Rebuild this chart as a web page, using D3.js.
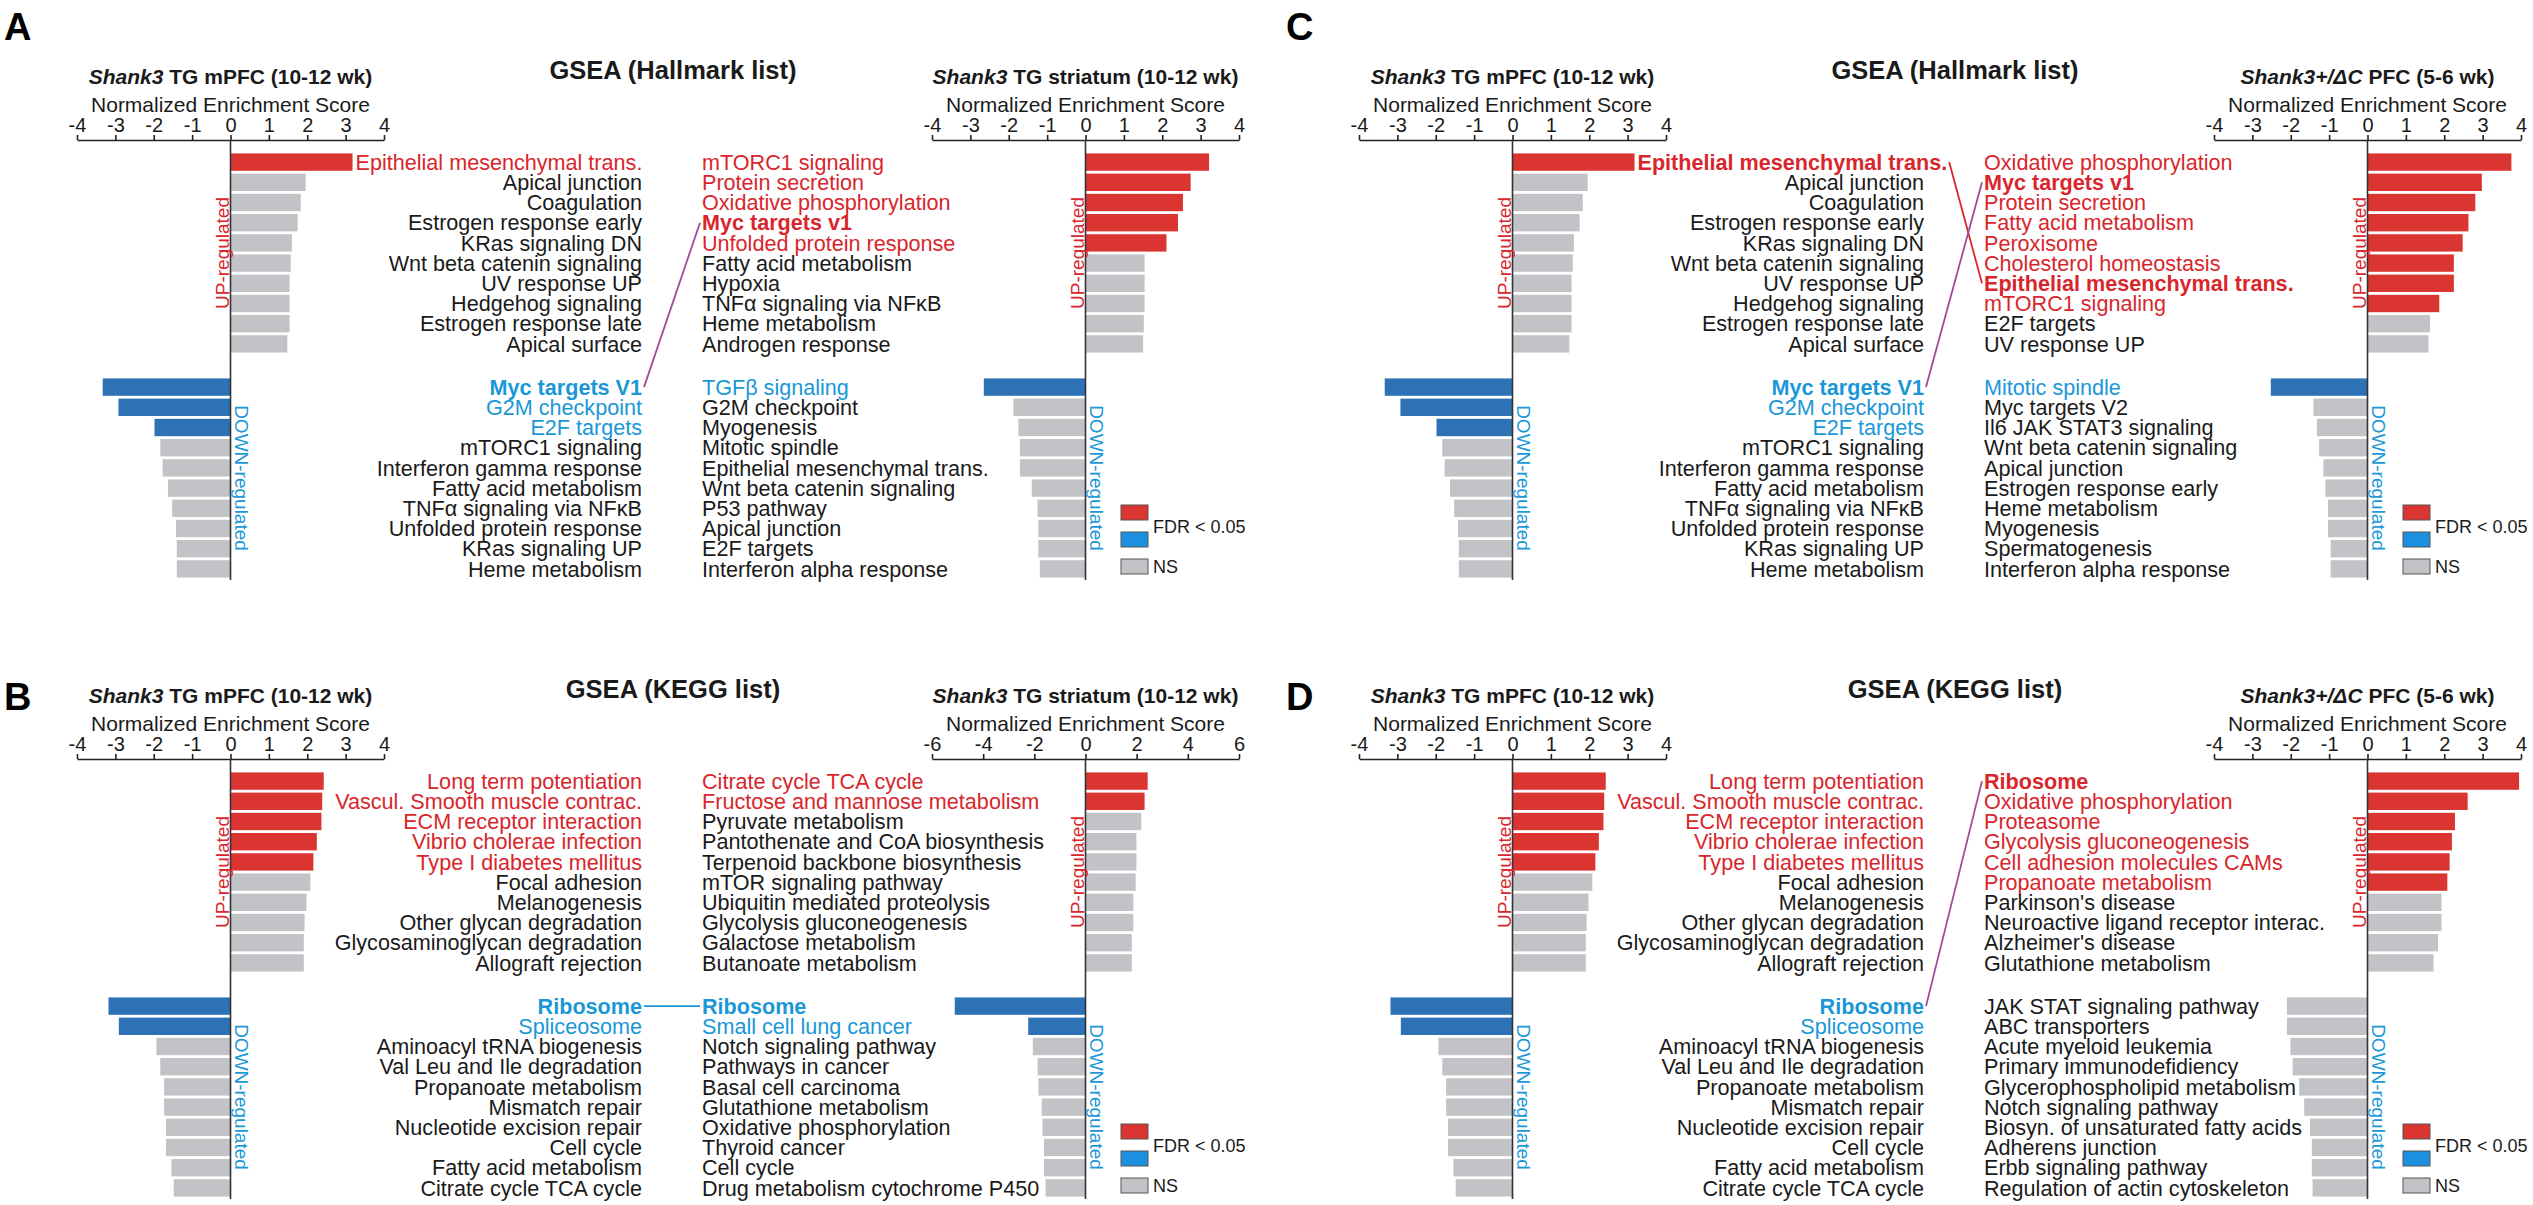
<!DOCTYPE html>
<html><head><meta charset="utf-8">
<script src="https://cdn.jsdelivr.net/npm/d3@7"></script>
<style>
body{margin:0;background:#fff}
svg{display:block;background:#fff}
text{font-family:"Liberation Sans",Arial,Helvetica,sans-serif}
</style>
</head><body>
<svg id="fig" width="2533" height="1205"></svg>
<script>
// ---------------- DATA ----------------
// Hallmark list — Shank3 TG mPFC (10-12 wk)
const hmMpfcUpTerms = ["Epithelial mesenchymal trans.","Apical junction","Coagulation","Estrogen response early","KRas signaling DN","Wnt beta catenin signaling","UV response UP","Hedgehog signaling","Estrogen response late","Apical surface"];
const hmMpfcUpNES   = [3.18,1.96,1.83,1.75,1.60,1.57,1.54,1.54,1.54,1.48];
const hmMpfcUpSig   = [1,0,0,0,0,0,0,0,0,0];
const hmMpfcDownTerms = ["Myc targets V1","G2M checkpoint","E2F targets","mTORC1 signaling","Interferon gamma response","Fatty acid metabolism","TNFα signaling via NFκB","Unfolded protein response","KRas signaling UP","Heme metabolism"];
const hmMpfcDownNES   = [-3.33,-2.92,-1.98,-1.83,-1.77,-1.63,-1.52,-1.42,-1.40,-1.40];
const hmMpfcDownSig   = [1,1,1,0,0,0,0,0,0,0];

// Hallmark list — Shank3 TG striatum (10-12 wk)
const hmStrUpTerms = ["mTORC1 signaling","Protein secretion","Oxidative phosphorylation","Myc targets v1","Unfolded protein response","Fatty acid metabolism","Hypoxia","TNFα signaling via NFκB","Heme metabolism","Androgen response"];
const hmStrUpNES   = [3.22,2.74,2.54,2.41,2.11,1.54,1.54,1.54,1.52,1.50];
const hmStrUpSig   = [1,1,1,1,1,0,0,0,0,0];
const hmStrDownTerms = ["TGFβ signaling","G2M checkpoint","Myogenesis","Mitotic spindle","Epithelial mesenchymal trans.","Wnt beta catenin signaling","P53 pathway","Apical junction","E2F targets","Interferon alpha response"];
const hmStrDownNES   = [-2.65,-1.88,-1.75,-1.71,-1.71,-1.40,-1.25,-1.23,-1.23,-1.19];
const hmStrDownSig   = [1,0,0,0,0,0,0,0,0,0];

// Hallmark list — Shank3+/ΔC PFC (5-6 wk)
const hmDcUpTerms = ["Oxidative phosphorylation","Myc targets v1","Protein secretion","Fatty acid metabolism","Peroxisome","Cholesterol homeostasis","Epithelial mesenchymal trans.","mTORC1 signaling","E2F targets","UV response UP"];
const hmDcUpNES   = [3.75,2.98,2.81,2.63,2.48,2.25,2.25,1.87,1.63,1.59];
const hmDcUpSig   = [1,1,1,1,1,1,1,1,0,0];
const hmDcDownTerms = ["Mitotic spindle","Myc targets V2","Il6 JAK STAT3 signaling","Wnt beta catenin signaling","Apical junction","Estrogen response early","Heme metabolism","Myogenesis","Spermatogenesis","Interferon alpha response"];
const hmDcDownNES   = [-2.52,-1.41,-1.32,-1.26,-1.15,-1.10,-1.03,-1.03,-0.96,-0.96];
const hmDcDownSig   = [1,0,0,0,0,0,0,0,0,0];

// KEGG list — Shank3 TG mPFC (10-12 wk)
const kgMpfcUpTerms = ["Long term potentiation","Vascul. Smooth muscle contrac.","ECM receptor interaction","Vibrio cholerae infection","Type I diabetes mellitus","Focal adhesion","Melanogenesis","Other glycan degradation","Glycosaminoglycan degradation","Allograft rejection"];
const kgMpfcUpNES   = [2.43,2.39,2.37,2.25,2.16,2.08,1.98,1.93,1.91,1.91];
const kgMpfcUpSig   = [1,1,1,1,1,0,0,0,0,0];
const kgMpfcDownTerms = ["Ribosome","Spliceosome","Aminoacyl tRNA biogenesis","Val Leu and Ile degradation","Propanoate metabolism","Mismatch repair","Nucleotide excision repair","Cell cycle","Fatty acid metabolism","Citrate cycle TCA cycle"];
const kgMpfcDownNES   = [-3.18,-2.91,-1.93,-1.83,-1.73,-1.73,-1.68,-1.68,-1.54,-1.48];
const kgMpfcDownSig   = [1,1,0,0,0,0,0,0,0,0];

// KEGG list — Shank3 TG striatum (10-12 wk)
const kgStrUpTerms = ["Citrate cycle TCA cycle","Fructose and mannose metabolism","Pyruvate metabolism","Pantothenate and CoA biosynthesis","Terpenoid backbone biosynthesis","mTOR signaling pathway","Ubiquitin mediated proteolysis","Glycolysis gluconeogenesis","Galactose metabolism","Butanoate metabolism"];
const kgStrUpNES   = [2.43,2.31,2.18,1.99,1.99,1.96,1.87,1.87,1.81,1.81];
const kgStrUpSig   = [1,1,0,0,0,0,0,0,0,0];
const kgStrDownTerms = ["Ribosome","Small cell lung cancer","Notch signaling pathway","Pathways in cancer","Basal cell carcinoma","Glutathione metabolism","Oxidative phosphorylation","Thyroid cancer","Cell cycle","Drug metabolism cytochrome P450"];
const kgStrDownNES   = [-5.11,-2.24,-2.06,-1.87,-1.84,-1.71,-1.68,-1.62,-1.62,-1.56];
const kgStrDownSig   = [1,1,0,0,0,0,0,0,0,0];

// KEGG list — Shank3+/ΔC PFC (5-6 wk)
const kgDcUpTerms = ["Ribosome","Oxidative phosphorylation","Proteasome","Glycolysis gluconeogenesis","Cell adhesion molecules CAMs","Propanoate metabolism","Parkinson's disease","Neuroactive ligand receptor interac.","Alzheimer's disease","Glutathione metabolism"];
const kgDcUpNES   = [3.95,2.61,2.28,2.20,2.14,2.08,1.93,1.93,1.84,1.72];
const kgDcUpSig   = [1,1,1,1,1,1,0,0,0,0];
const kgDcDownTerms = ["JAK STAT signaling pathway","ABC transporters","Acute myeloid leukemia","Primary immunodefidiency","Glycerophospholipid metabolism","Notch signaling pathway","Biosyn. of unsaturated fatty acids","Adherens junction","Erbb signaling pathway","Regulation of actin cytoskeleton"];
const kgDcDownNES   = [-2.10,-2.10,-2.01,-1.95,-1.78,-1.65,-1.50,-1.45,-1.45,-1.43];
const kgDcDownSig   = [0,0,0,0,0,0,0,0,0,0];

// axis ticks
const ticks4 = [-4,-3,-2,-1,0,1,2,3,4];
const ticks6 = [-6,-4,-2,0,2,4,6];

// titles
const panelLetters = ["A","B","C","D"];
const gseaTitles = ["GSEA (Hallmark list)","GSEA (KEGG list)"];
const axisTitle = "Normalized Enrichment Score";
const legendLabels = ["FDR < 0.05","NS"];

// highlighted (shared) gene sets, and connections between the two lists
const boldA = ["Myc targets V1","Myc targets v1"];
const boldB = ["Ribosome"];
const boldC = ["Epithelial mesenchymal trans.","Myc targets V1","Myc targets v1"];
const boldD = ["Ribosome"];
const linksA = [["down",0,"up",3,"purple"]];
const linksB = [["down",0,"down",0,"blue"]];
const linksC = [["up",0,"up",6,"red"],["down",0,"up",1,"purple"]];
const linksD = [["down",0,"up",0,"purple"]];

// ---------------- STYLE ----------------
const C = {
  redBar:"#db3531", blueBar:"#2c72b4", grayBar:"#c2c3c6",
  redText:"#d8262c", blueText:"#1a97d7", black:"#1a1a1a",
  legendBlue:"#1b8fe0", purple:"#a24a9a"
};
const FONT = '"Liberation Sans",Arial,Helvetica,sans-serif';

const svg = d3.select("#fig");

function chartCfg(title, italic, domain, ticks, upT, upV, upS, dnT, dnV, dnS, bold) {
  return {title, italic, domain, ticks,
    up: upT.map((t,i)=>({term:t, nes:upV[i], sig:upS[i]})),
    down: dnT.map((t,i)=>({term:t, nes:dnV[i], sig:dnS[i]})),
    bold};
}

const panels = [
  {letter:panelLetters[0], dx:0, dy:0, letterY:40, gsea:gseaTitles[0],
   left: chartCfg(" TG mPFC (10-12 wk)","Shank3",[-4,4],ticks4,hmMpfcUpTerms,hmMpfcUpNES,hmMpfcUpSig,hmMpfcDownTerms,hmMpfcDownNES,hmMpfcDownSig,boldA),
   right: chartCfg(" TG striatum (10-12 wk)","Shank3",[-4,4],ticks4,hmStrUpTerms,hmStrUpNES,hmStrUpSig,hmStrDownTerms,hmStrDownNES,hmStrDownSig,boldA),
   links: linksA},
  {letter:panelLetters[1], dx:0, dy:619, letterY:91, gsea:gseaTitles[1],
   left: chartCfg(" TG mPFC (10-12 wk)","Shank3",[-4,4],ticks4,kgMpfcUpTerms,kgMpfcUpNES,kgMpfcUpSig,kgMpfcDownTerms,kgMpfcDownNES,kgMpfcDownSig,boldB),
   right: chartCfg(" TG striatum (10-12 wk)","Shank3",[-6,6],ticks6,kgStrUpTerms,kgStrUpNES,kgStrUpSig,kgStrDownTerms,kgStrDownNES,kgStrDownSig,boldB),
   links: linksB},
  {letter:panelLetters[2], dx:1282, dy:0, letterY:40, gsea:gseaTitles[0],
   left: chartCfg(" TG mPFC (10-12 wk)","Shank3",[-4,4],ticks4,hmMpfcUpTerms,hmMpfcUpNES,hmMpfcUpSig,hmMpfcDownTerms,hmMpfcDownNES,hmMpfcDownSig,boldC),
   right: chartCfg(" PFC (5-6 wk)","Shank3+/ΔC",[-4,4],ticks4,hmDcUpTerms,hmDcUpNES,hmDcUpSig,hmDcDownTerms,hmDcDownNES,hmDcDownSig,boldC),
   links: linksC},
  {letter:panelLetters[3], dx:1282, dy:619, letterY:91, gsea:gseaTitles[1],
   left: chartCfg(" TG mPFC (10-12 wk)","Shank3",[-4,4],ticks4,kgMpfcUpTerms,kgMpfcUpNES,kgMpfcUpSig,kgMpfcDownTerms,kgMpfcDownNES,kgMpfcDownSig,boldD),
   right: chartCfg(" PFC (5-6 wk)","Shank3+/ΔC",[-4,4],ticks4,kgDcUpTerms,kgDcUpNES,kgDcUpSig,kgDcDownTerms,kgDcDownNES,kgDcDownSig,boldD),
   links: linksD}
];

// layout inside a panel
const L = {
  leftRange:[77,384], rightRange:[932,1239],
  axisY:140, titleY:84, nesY:112,
  upRange:[152,354], downRange:[377,579], zeroBottom:580,
  leftLabelX:642, rightLabelX:702,
  labelSize:21.6, titleSize:21, tickSize:20, sideSize:19
};
const rowsUp = d3.scaleBand().domain(d3.range(10)).range(L.upRange).paddingInner(0.14).paddingOuter(0.07);
const rowsDown = d3.scaleBand().domain(d3.range(10)).range(L.downRange).paddingInner(0.14).paddingOuter(0.07);
const rowY = (sec,i) => (sec==="up"?rowsUp:rowsDown)(i) + rowsUp.bandwidth()/2;

function drawChart(g, cfg, side) {
  const x = d3.scaleLinear().domain(cfg.domain).range(side==="left"?L.leftRange:L.rightRange);
  const x0 = x(0);
  const cg = g.append("g");
  const labelEnds = {up:[], down:[]};

  // title
  const t = cg.append("text").attr("x", x0).attr("y", L.titleY).attr("text-anchor","middle")
    .attr("font-size", L.titleSize).attr("font-weight","bold").attr("fill", C.black);
  t.append("tspan").attr("font-style","italic").text(cfg.italic);
  t.append("tspan").text(cfg.title);
  cg.append("text").attr("x", x0).attr("y", L.nesY).attr("text-anchor","middle")
    .attr("font-size", L.titleSize).attr("fill", C.black).text(axisTitle);

  // axis
  const ax = cg.append("g").attr("transform", `translate(0,${L.axisY})`)
    .call(d3.axisTop(x).tickValues(cfg.ticks).tickSize(5).tickSizeOuter(0).tickPadding(3).tickFormat(d=>String(d)));
  ax.attr("font-family", FONT).attr("font-size", L.tickSize);
  ax.select(".domain").attr("stroke", "#222").attr("stroke-width", 1.6);
  ax.selectAll(".tick line").attr("stroke", "#222").attr("stroke-width", 1.6);
  ax.selectAll(".tick text").attr("fill", C.black);

  // bars + labels
  const sections = [["up", cfg.up, rowsUp], ["down", cfg.down, rowsDown]];
  sections.forEach(([sec, data, rows]) => {
    cg.append("g").selectAll("rect").data(data).join("rect")
      .attr("x", d => x(Math.min(0, d.nes)))
      .attr("width", d => Math.abs(x(d.nes) - x0))
      .attr("y", (d,i) => rows(i))
      .attr("height", rows.bandwidth())
      .attr("fill", d => d.sig ? (sec==="up"?C.redBar:C.blueBar) : C.grayBar);

    const lx = side==="left" ? L.leftLabelX : L.rightLabelX;
    cg.append("g").selectAll("text").data(data).join("text")
      .attr("x", lx)
      .attr("y", (d,i) => rows(i) + rows.bandwidth()/2)
      .attr("dy", "0.36em")
      .attr("text-anchor", side==="left" ? "end" : "start")
      .attr("font-size", L.labelSize)
      .attr("font-weight", d => cfg.bold.includes(d.term) ? "bold" : "normal")
      .attr("fill", d => d.sig ? (sec==="up"?C.redText:C.blueText) : C.black)
      .text(d => d.term)
      .each(function(d, i) {
        // left list: a label that would run into its own bar starts just after the bar
        let end = lx;
        if (side === "left" && d.nes > 0) {
          const w = this.getComputedTextLength();
          const barEnd = x(d.nes);
          if (lx - w < barEnd + 3) {
            d3.select(this).attr("x", barEnd + 3).attr("text-anchor", "start");
            end = barEnd + 3 + w;
          }
        }
        labelEnds[sec][i] = end;
      });
  });

  // zero line
  cg.append("line").attr("x1", x0).attr("x2", x0).attr("y1", L.axisY).attr("y2", L.zeroBottom)
    .attr("stroke", "#333").attr("stroke-width", 1.6);

  // side labels
  const upMid = (L.upRange[0]+L.upRange[1])/2, dnMid = (L.downRange[0]+L.downRange[1])/2;
  cg.append("text").attr("transform", `translate(${x0-2},${upMid}) rotate(-90)`)
    .attr("text-anchor","middle").attr("font-size", L.sideSize).attr("fill", C.redText).text("UP-regulated");
  cg.append("text").attr("transform", `translate(${x0+4},${dnMid}) rotate(90)`)
    .attr("text-anchor","middle").attr("font-size", L.sideSize).attr("fill", C.blueText).text("DOWN-regulated");

  // legend
  if (side === "right") {
    const lg = cg.append("g");
    const sw = [[C.redBar,505],[C.legendBlue,532],[C.grayBar,559]];
    lg.selectAll("rect").data(sw).join("rect")
      .attr("x", 1121).attr("y", d=>d[1]).attr("width", 27).attr("height", 15)
      .attr("fill", d=>d[0]).attr("stroke", "#555").attr("stroke-width", 1);
    lg.append("text").attr("x", 1153).attr("y", 527).attr("dy","0.36em").attr("font-size", 18).attr("fill", C.black).text(legendLabels[0]);
    lg.append("text").attr("x", 1153).attr("y", 567).attr("dy","0.36em").attr("font-size", 18).attr("fill", C.black).text(legendLabels[1]);
  }
  return labelEnds;
}

panels.forEach(p => {
  const g = svg.append("g").attr("transform", `translate(${p.dx},${p.dy})`);
  g.append("text").attr("x", 4).attr("y", p.letterY).attr("font-size", 38).attr("font-weight","bold").attr("fill","#000").text(p.letter);
  g.append("text").attr("x", 673).attr("y", 79).attr("text-anchor","middle").attr("font-size", 25.5)
    .attr("font-weight","bold").attr("fill", C.black).text(p.gsea);
  const leftEnds = drawChart(g, p.left, "left");
  drawChart(g, p.right, "right");
  const linkColor = {purple:C.purple, red:C.redText, blue:C.blueText};
  p.links.forEach(([s1,i1,s2,i2,col]) => {
    g.append("line")
      .attr("x1", leftEnds[s1][i1] + 2).attr("y1", rowY(s1,i1))
      .attr("x2", L.rightLabelX - 2).attr("y2", rowY(s2,i2))
      .attr("stroke", linkColor[col]).attr("stroke-width", 1.8);
  });
});
</script>
</body></html>
